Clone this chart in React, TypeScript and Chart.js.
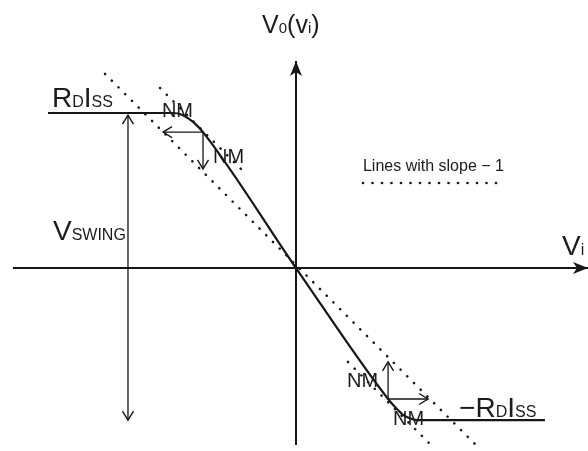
import { useEffect, useRef } from "react";
import { Chart, registerables } from "chart.js";

Chart.register(...registerables);

// Units: voltages normalised so that RD·ISS = 1
// Transfer characteristic V0(vi)
const curveX = [-1.6, -0.79, -0.74, -0.69, -0.645, -0.6, 0, 0.594, 0.639, 0.684, 0.729, 0.781, 1.606];
const curveY = [1.0, 1.0, 0.99, 0.962, 0.925, 0.877, 0, -0.845, -0.897, -0.942, -0.968, -0.981, -0.981];

// Lines with slope -1
const slopeLineAX = [-1.232, 1.174];
const slopeLineAY = [1.252, -1.155];
const slopeLineBX = [-0.877, -0.329];
const slopeLineBY = [1.161, 0.613];
const slopeLineCX = [0.335, 0.884];
const slopeLineCY = [-0.606, -1.155];
const legendLineX = [0.432, 1.329];
const legendLineY = [0.548, 0.548];

// Axes
const axisHX = [-1.826, 1.884];
const axisHY = [0, 0];
const axisVX = [0, 0];
const axisVY = [-1.142, 1.335];

// Arrows (V_SWING and noise margins)
const swingX = [-1.084, -1.084];
const swingY = [0.987, -0.981];
const nmHighHX = [-0.6, -0.858];
const nmHighHY = [0.877, 0.877];
const nmHighVX = [-0.6, -0.6];
const nmHighVY = [0.877, 0.639];
const nmLowVX = [0.594, 0.594];
const nmLowVY = [-0.845, -0.606];
const nmLowHX = [0.594, 0.852];
const nmLowHY = [-0.845, -0.845];

// Labels: segments starting with "_" are small (subscript-like)
const labelText = [
  ["R", "_D", "I", "_SS"],
  ["NM"],
  ["NM"],
  ["V", "_SWING"],
  ["V", "_0", "(v", "_i", ")"],
  ["V", "_i"],
  ["Lines with slope \u2212 1"],
  ["NM"],
  ["NM"],
  ["\u2212R", "_D", "I", "_SS"],
];
const labelX = [-1.574, -0.865, -0.535, -1.568, -0.219, 1.716, 0.432, 0.329, 0.626, 1.052];
const labelY = [1.039, 0.974, 0.677, 0.181, 1.516, 0.084, 0.626, -0.768, -1.013, -0.961];

const FONT = "'Liberation Sans', Arial, Helvetica, sans-serif";
const INK = "#161616";
const labelSizes = [
  [28, 16],
  [20, 20],
  [20, 20],
  [28, 16],
  [25, 15],
  [28, 16],
  [16, 16],
  [20, 20],
  [20, 20],
  [28, 16],
];

function pts(xs: number[], ys: number[]) {
  return xs.map((x, i) => ({ x, y: ys[i] }));
}

function drawOpenHead(ctx: CanvasRenderingContext2D, from: any, to: any) {
  const ang = Math.atan2(to.y - from.y, to.x - from.x);
  const len = 9;
  const half = 5.5;
  const bx = to.x - len * Math.cos(ang);
  const by = to.y - len * Math.sin(ang);
  const nx = -Math.sin(ang);
  const ny = Math.cos(ang);
  ctx.beginPath();
  ctx.moveTo(bx + half * nx, by + half * ny);
  ctx.lineTo(to.x, to.y);
  ctx.lineTo(bx - half * nx, by - half * ny);
  ctx.stroke();
}

function drawFilledHead(ctx: CanvasRenderingContext2D, from: any, to: any) {
  const ang = Math.atan2(to.y - from.y, to.x - from.x);
  const len = 15;
  const half = 6;
  const notch = 4;
  const cx = Math.cos(ang);
  const cy = Math.sin(ang);
  const nx = -cy;
  const ny = cx;
  const bx = to.x - len * cx;
  const by = to.y - len * cy;
  ctx.beginPath();
  ctx.moveTo(to.x, to.y);
  ctx.lineTo(bx + half * nx, by + half * ny);
  ctx.lineTo(to.x - (len - notch) * cx, to.y - (len - notch) * cy);
  ctx.lineTo(bx - half * nx, by - half * ny);
  ctx.closePath();
  ctx.fill();
}

const arrowPlugin = {
  id: "arrowHeads",
  afterDatasetsDraw(chart: any) {
    const ctx: CanvasRenderingContext2D = chart.ctx;
    ctx.save();
    ctx.strokeStyle = INK;
    ctx.fillStyle = INK;
    ctx.lineWidth = 1.4;
    ctx.lineJoin = "miter";
    chart.data.datasets.forEach((ds: any, i: number) => {
      if (!ds.arrow) return;
      const p = chart.getDatasetMeta(i).data;
      const a = p[p.length - 2];
      const b = p[p.length - 1];
      if (ds.arrow === "filled") {
        drawFilledHead(ctx, a, b);
      } else {
        drawOpenHead(ctx, a, b);
        if (ds.arrow === "both") drawOpenHead(ctx, b, a);
      }
    });
    ctx.restore();
  },
};

const textPlugin = {
  id: "richLabels",
  afterDatasetsDraw(chart: any) {
    const ctx: CanvasRenderingContext2D = chart.ctx;
    const xs = chart.scales.x;
    const ys = chart.scales.y;
    ctx.save();
    ctx.fillStyle = "#1c1c1c";
    ctx.textBaseline = "alphabetic";
    ctx.textAlign = "left";
    labelText.forEach((segs, i) => {
      let px = xs.getPixelForValue(labelX[i]);
      const py = ys.getPixelForValue(labelY[i]);
      const [big, small] = labelSizes[i];
      segs.forEach((s) => {
        const isSmall = s.startsWith("_");
        const t = isSmall ? s.slice(1) : s;
        ctx.font = `${isSmall ? small : big}px ${FONT}`;
        ctx.fillText(t, px, py);
        px += ctx.measureText(t).width;
      });
    });
    ctx.restore();
  },
};

export default function App() {
  const ref = useRef<HTMLCanvasElement | null>(null);

  useEffect(() => {
    if (!ref.current) return;
    const solid = (xs: number[], ys: number[], w: number, arrow?: string, cubic?: boolean) => ({
      data: pts(xs, ys),
      showLine: true,
      borderColor: INK,
      borderWidth: w,
      pointRadius: 0,
      pointHoverRadius: 0,
      fill: false,
      cubicInterpolationMode: cubic ? "monotone" : "default",
      arrow,
    });
    const dotted = (xs: number[], ys: number[]) => ({
      data: pts(xs, ys),
      showLine: true,
      borderColor: "#1a1a1a",
      borderWidth: 2.6,
      borderCapStyle: "round",
      borderDash: [0.1, 9.4],
      pointRadius: 0,
      pointHoverRadius: 0,
      fill: false,
    });

    const chart = new Chart(ref.current, {
      type: "scatter",
      data: {
        datasets: [
          dotted(slopeLineAX, slopeLineAY),
          dotted(slopeLineBX, slopeLineBY),
          dotted(slopeLineCX, slopeLineCY),
          dotted(legendLineX, legendLineY),
          solid(axisHX, axisHY, 2, "filled"),
          solid(axisVX, axisVY, 2, "filled"),
          solid(swingX, swingY, 1.3, "both"),
          solid(nmHighHX, nmHighHY, 1.3, "end"),
          solid(nmHighVX, nmHighVY, 1.3, "end"),
          solid(nmLowVX, nmLowVY, 1.3, "end"),
          solid(nmLowHX, nmLowHY, 1.3, "end"),
          solid(curveX, curveY, 2.2, undefined, true),
        ] as any,
      },
      options: {
        animation: false,
        responsive: true,
        maintainAspectRatio: false,
        layout: { padding: 0 },
        events: [],
        plugins: {
          legend: { display: false },
          tooltip: { enabled: false },
          title: { display: false },
        },
        scales: {
          x: { type: "linear", display: false, min: -1.9097, max: 1.8839 },
          y: { type: "linear", display: false, min: -1.1806, max: 1.729 },
        },
      },
      plugins: [arrowPlugin, textPlugin],
    });
    return () => chart.destroy();
  }, []);

  return (
    <div style={{ position: "fixed", left: 0, top: 0, width: 588, height: 451, background: "#fff" }}>
      <canvas ref={ref} />
    </div>
  );
}
